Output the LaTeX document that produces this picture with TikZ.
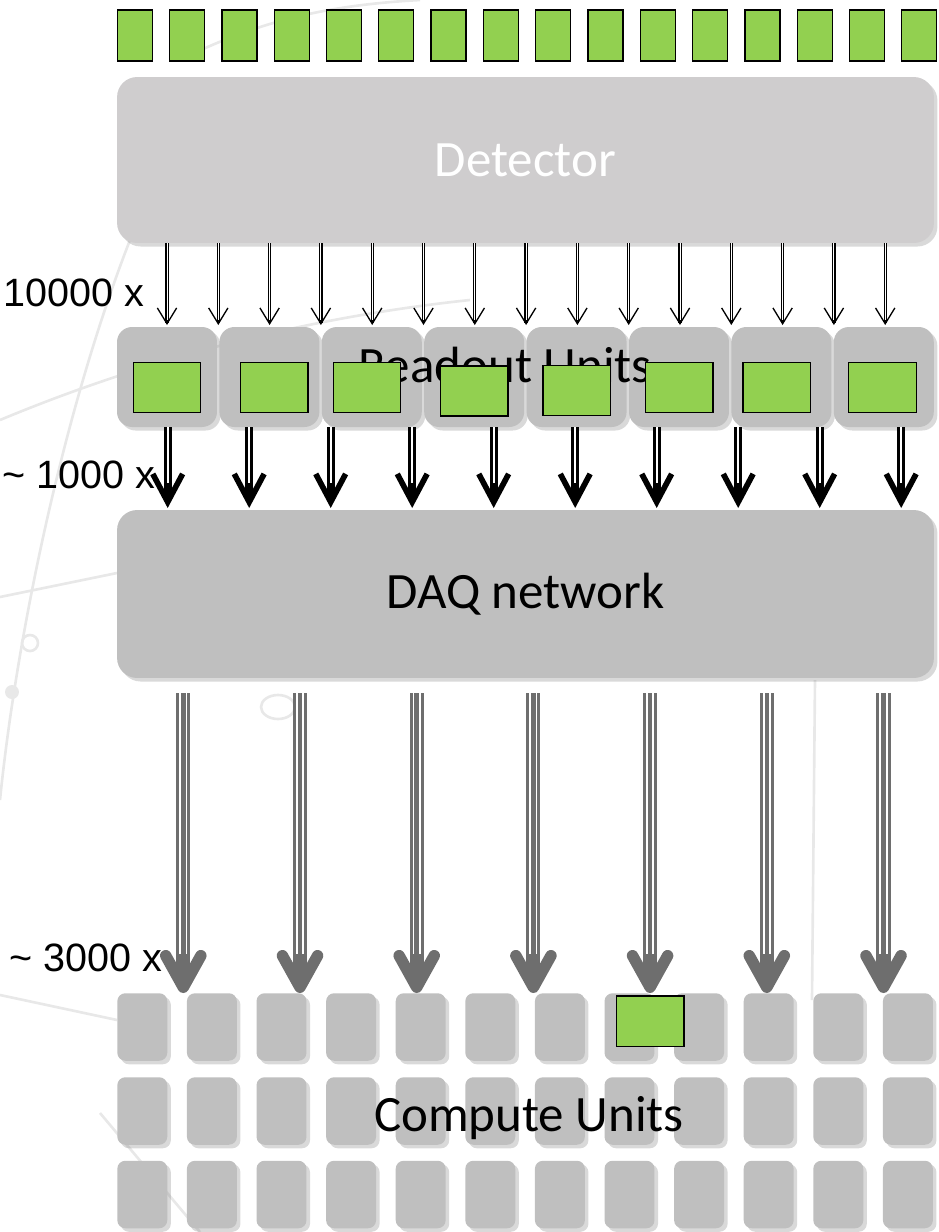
\documentclass[tikz,border=0pt]{standalone}
\usepackage{fontspec}
\setmainfont{Carlito}
\newfontfamily\arialfont{Liberation Sans}
\usetikzlibrary{arrows.meta,% arrow tips with length and width
shadows}%                   drop shadows under the boxes
\definecolor{unitgreen}{HTML}{92D050}
\definecolor{detgray}{HTML}{CFCDCE}
\definecolor{boxgray}{HTML}{BFBFBF}
\definecolor{pipegray}{HTML}{6E6E6E}
\tikzset{every node/.style={font=\fontsize{29}{34}\selectfont},
  box/.style={fill=boxgray, inner sep=0pt,
    drop shadow={shadow xshift=2pt, shadow yshift=-2pt, opacity=.3}},
  chip/.style={fill=unitgreen, draw=black, line width=0.7pt, inner sep=0pt},
  count/.style={font=\arialfont\fontsize{22.5}{26}\selectfont, anchor=east, inner sep=0pt},
  thinlink/.style={line width=1.9pt,
    -{Straight Barb[length=9pt, width=11pt, line width=0.75pt]},
    postaction={draw=white, line width=0.5pt, -, shorten >=3pt}},
  fatlink/.style={line width=4.5pt,
    -{Straight Barb[length=16pt, width=17pt, line width=3.2pt, sharp]},
    postaction={draw=white, line width=1pt, -, shorten >=14pt}},
  pipe/.style={draw=pipegray, line width=8pt, shorten <=0.3cm,
    -{Straight Barb[length=18pt, width=20pt, line width=6.5pt, round]},
    postaction={draw=white, line width=4.6pt, -, shorten >=22pt},
    postaction={draw=pipegray, line width=2.6pt, -, shorten >=22pt}}}

\begin{document}
\begin{tikzpicture}[x=0.02cm, y=-0.02cm]
  \useasboundingbox (0,0) rectangle (938,1232);
  % faint globe sketch in the background
  \begin{scope}[color=black!9, line width=1.5pt]
    \draw (130,240) .. controls (60,420) and (15,650) .. (0,800);
    \draw (0,420) .. controls (120,370) and (280,320) .. (470,300);
    \draw (0,597) -- (117,573);
    \draw (0,995) -- (117,1020);
    \draw (30,643) circle[radius=0.16cm];
    \draw (278,707) ellipse[x radius=0.34cm, y radius=0.24cm];
    \fill (12,692) circle[radius=0.14cm];
    \draw (815,680) -- (812,1000);
    \draw (100,1113) -- (200,1232);
    \draw (180,60) .. controls (260,20) and (330,5) .. (420,0);
  \end{scope}

  % detector channels
  \foreach \i in {0,...,15}
    \node[chip, minimum width=0.7cm, minimum height=1.02cm] (sq\i) at ({134.8+52.3*\i},35.5) {};
  \node[box, fill=detgray, rounded corners=0.4cm, minimum width=16.34cm, minimum height=3.32cm,
    text=white] (det) at (525.5,160) {Detector};

  % readout units
  \foreach \i in {0,...,7}
    \node[box, rounded corners=0.3cm, minimum width=2cm, minimum height=2cm] (ru\i) at ({167+102.4*\i},377) {};
  \node[anchor=base, inner sep=0pt] (rtext) at (505,382) {Readout Units};
  \foreach \x/\y [count=\i] in {167/387.5, 274.3/387.5, 367/387.7, 474.3/391,
      576.8/390.7, 679.2/387.7, 776.8/387.5, 882.5/387.5}
    \node[chip, minimum width=1.35cm, minimum height=1cm] (rg\i) at (\x,\y) {};

  % DAQ network
  \node[box, rounded corners=0.4cm, minimum width=16.34cm, minimum height=3.36cm] (daq) at (525.5,594) {DAQ network};

  % compute farm
  \foreach \y [count=\r] in {1027,1111,1194.5}
    \foreach \c in {0,...,11}
      \node[box, rounded corners=0.16cm, minimum width=1cm, minimum height=1.35cm] (cu-\r-\c) at ({142.3+69.6*\c},\y) {};
  \node[chip, minimum width=1.35cm, minimum height=1.01cm] (cg) at (650.2,1021.3) {};
  \node[anchor=base, inner sep=0pt] (ctext) at (529,1131) {Compute Units};

  % links
  \foreach \i in {0,...,14} {
    \coordinate (t\i) at ({167+51.3*\i},325);
    \draw[thinlink] (det.south -| t\i) -- (t\i);
  }
  \foreach \i in {0,...,9} {
    \coordinate (d\i) at ({167.7+81.5*\i},508);
    \draw[fatlink] (ru0.south -| d\i) -- (d\i);
  }
  \foreach \i in {0,...,6} {
    \coordinate (p\i) at ({183.3+116.7*\i},993);
    \draw[pipe] (daq.south -| p\i) -- (p\i);
  }

  % multiplicities
  \node[count] (n10000) at (145,293) {10000 x};
  \node[count] (n1000) at (156,475) {\textasciitilde{} 1000 x};
  \node[count] (n3000) at (163,958) {\textasciitilde{} 3000 x};
\end{tikzpicture}
\end{document}
